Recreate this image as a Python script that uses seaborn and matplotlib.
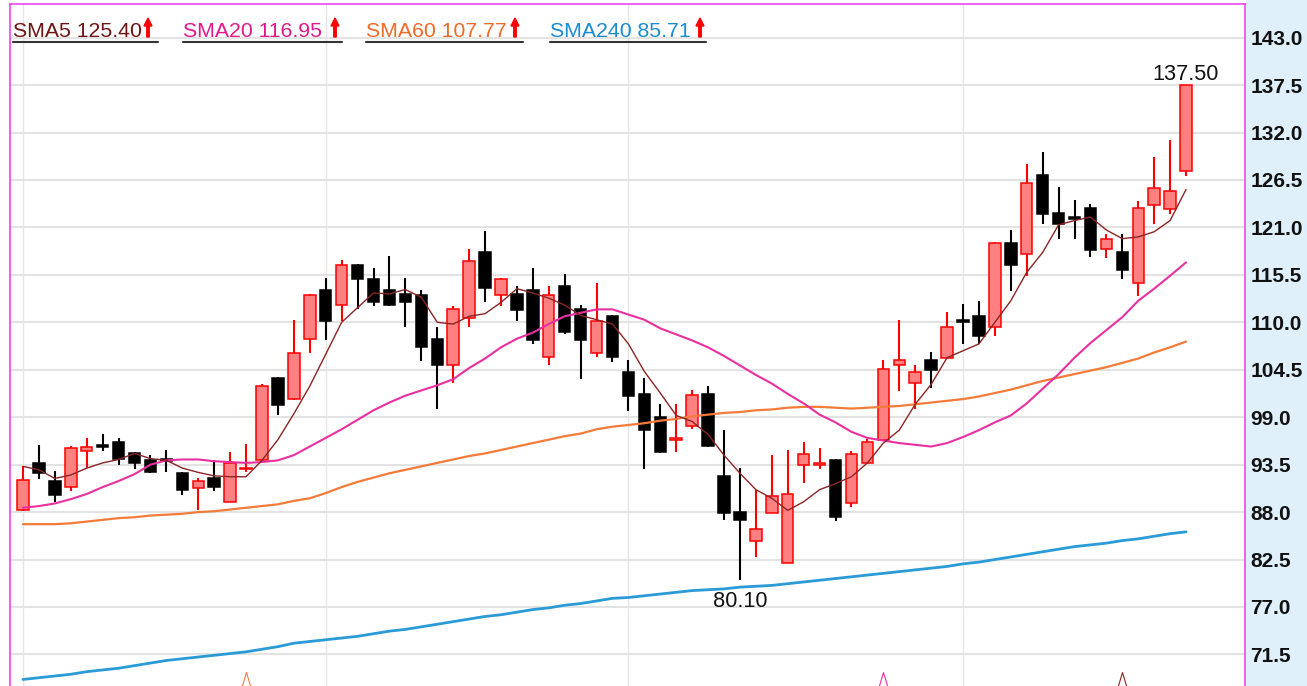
import numpy as np
import pandas as pd
import matplotlib
matplotlib.use("Agg")
import matplotlib.pyplot as plt
import seaborn as sns
from matplotlib import font_manager as fm
from matplotlib.patches import Rectangle, FancyArrow
from matplotlib.lines import Line2D
from matplotlib.path import Path
from matplotlib.transforms import IdentityTransform, blended_transform_factory

# ---------------- data ----------------
opens = [88.2, 93.7, 91.6, 90.9, 95.1, 95.7, 96.1, 94.8, 94.0, 94.1,
         92.5, 90.8, 92.0, 89.2, 93.0, 94.0, 103.6, 101.1, 108.1, 113.7,
         112.0, 116.7, 115.0, 113.7, 113.3, 113.2, 108.1, 105.0, 110.5, 118.1,
         113.2, 113.3, 113.7, 106.0, 114.2, 111.6, 106.4, 110.7, 104.2, 101.7,
         99.0, 96.4, 98.0, 101.7, 92.2, 88.0, 84.6, 87.9, 82.1, 93.5,
         93.5, 94.0, 89.1, 93.7, 96.3, 105.1, 103.0, 105.6, 105.9, 110.3,
         110.7, 109.4, 119.2, 117.9, 127.1, 122.7, 122.2, 123.2, 118.5, 118.1,
         114.5, 123.6, 123.1, 127.5]
highs = [93.3, 95.8, 92.8, 95.7, 96.6, 97.1, 96.6, 95.0, 94.6, 95.2,
         92.7, 91.9, 94.0, 95.0, 95.9, 102.8, 103.7, 110.3, 113.3, 115.1,
         117.2, 116.8, 116.3, 117.7, 115.1, 113.7, 109.5, 111.9, 118.5, 120.6,
         115.1, 114.2, 116.3, 114.2, 115.6, 112.0, 114.6, 110.8, 105.6, 103.5,
         100.5, 100.5, 102.1, 102.6, 97.5, 93.1, 90.6, 94.6, 95.2, 96.1,
         95.4, 94.2, 95.1, 96.5, 105.6, 110.3, 105.1, 106.6, 111.2, 112.1,
         112.5, 119.3, 120.7, 128.3, 129.7, 125.7, 124.2, 123.7, 120.2, 120.2,
         124.1, 129.2, 131.1, 137.5]
lows = [88.1, 91.8, 89.2, 90.5, 93.1, 95.1, 93.5, 93.0, 92.5, 92.7,
        90.0, 88.3, 90.5, 89.2, 92.7, 93.8, 99.2, 101.0, 106.4, 108.0,
        110.2, 111.5, 111.9, 111.9, 109.4, 105.5, 99.9, 103.0, 109.4, 112.4,
        111.9, 110.1, 107.5, 105.0, 108.7, 103.4, 106.0, 105.4, 99.7, 93.0,
        94.9, 95.0, 97.6, 95.5, 87.1, 80.1, 82.8, 87.9, 82.1, 91.4,
        93.0, 87.0, 88.6, 93.7, 96.2, 102.0, 99.9, 102.4, 105.9, 107.5,
        107.5, 108.4, 113.6, 115.4, 121.4, 119.6, 119.6, 117.6, 117.5, 115.0,
        113.1, 121.4, 122.6, 127.0]
closes = [91.7, 92.5, 90.0, 95.4, 95.6, 95.6, 94.2, 93.7, 92.7, 93.9,
          90.6, 91.6, 90.9, 93.7, 93.1, 102.6, 100.4, 106.5, 113.2, 110.1,
          116.7, 115.0, 112.4, 112.0, 112.4, 107.1, 105.0, 111.5, 117.1, 114.0,
          115.0, 111.4, 108.0, 113.2, 108.9, 108.0, 110.2, 106.0, 101.5, 97.5,
          95.0, 96.6, 101.6, 95.7, 87.9, 87.1, 86.0, 89.9, 90.1, 94.7,
          93.7, 87.4, 94.7, 96.1, 104.6, 105.6, 104.2, 104.5, 109.5, 110.1,
          108.4, 119.2, 116.6, 126.2, 122.6, 121.4, 122.0, 118.4, 119.7, 116.1,
          123.2, 125.6, 125.2, 137.5]

sma5 = [93.3, 92.9, 91.9, 92.3, 93.1, 93.7, 94.1, 94.8, 94.2, 94.0,
        93.1, 92.6, 92.2, 92.1, 92.1, 94.0, 96.4, 99.4, 102.6, 106.3,
        110.0, 111.7, 113.4, 113.3, 113.8, 112.9, 110.0, 109.8, 110.7, 111.0,
        112.3, 113.9, 113.4, 112.8, 112.0, 110.8, 110.3, 109.8, 107.5, 104.3,
        101.8, 99.2, 98.5, 97.0, 94.6, 92.5, 90.6, 89.6, 88.2, 89.2,
        90.6, 91.3, 92.1, 93.7, 96.0, 97.5, 100.5, 102.8, 105.9, 106.7,
        107.5, 110.0, 112.5, 115.8, 118.1, 121.3, 121.8, 122.2, 120.7, 119.7,
        119.9, 120.5, 121.8, 125.4]
sma20 = [88.5, 88.7, 89.0, 89.5, 90.1, 90.9, 91.6, 92.4, 93.5, 94.0,
         94.1, 94.1, 93.9, 93.8, 93.7, 93.8, 94.0, 94.6, 95.6, 96.6,
         97.6, 98.7, 99.8, 100.7, 101.5, 102.1, 102.7, 103.4, 104.7, 105.8,
         107.1, 108.1, 108.8, 109.8, 110.7, 111.1, 111.5, 111.5, 110.9, 110.3,
         109.3, 108.6, 107.9, 107.1, 106.1, 105.0, 103.9, 102.9, 101.7, 100.6,
         99.3, 98.4, 97.3, 96.6, 96.3, 96.0, 95.8, 95.6, 96.0, 96.7,
         97.5, 98.4, 99.2, 100.6, 102.3, 104.0, 105.9, 107.6, 109.1, 110.6,
         112.5, 113.9, 115.4, 116.95]
sma60 = [86.6, 86.6, 86.6, 86.7, 86.9, 87.1, 87.3, 87.4, 87.6, 87.7,
         87.8, 88.0, 88.1, 88.3, 88.5, 88.7, 88.9, 89.3, 89.6, 90.2,
         90.9, 91.5, 92.0, 92.5, 92.9, 93.3, 93.7, 94.1, 94.5, 94.8,
         95.2, 95.6, 96.0, 96.4, 96.8, 97.1, 97.6, 97.9, 98.1, 98.3,
         98.6, 98.8, 99.1, 99.3, 99.5, 99.6, 99.8, 99.9, 100.1, 100.2,
         100.2, 100.1, 100.0, 100.1, 100.2, 100.3, 100.5, 100.7, 100.9, 101.1,
         101.4, 101.8, 102.2, 102.7, 103.2, 103.6, 104.0, 104.4, 104.8, 105.3,
         105.8, 106.5, 107.1, 107.77]
sma240 = [68.6, 68.8, 69.0, 69.2, 69.5, 69.7, 69.9, 70.2, 70.5, 70.8,
          71.0, 71.2, 71.4, 71.6, 71.8, 72.1, 72.4, 72.8, 73.0, 73.2,
          73.4, 73.6, 73.9, 74.2, 74.4, 74.7, 75.0, 75.3, 75.6, 75.9,
          76.1, 76.4, 76.7, 76.9, 77.2, 77.4, 77.7, 78.0, 78.1, 78.3,
          78.5, 78.7, 78.9, 79.0, 79.1, 79.3, 79.4, 79.5, 79.7, 79.9,
          80.1, 80.3, 80.5, 80.7, 80.9, 81.1, 81.3, 81.5, 81.7, 82.0,
          82.2, 82.5, 82.8, 83.1, 83.4, 83.7, 84.0, 84.2, 84.4, 84.7,
          84.9, 85.2, 85.5, 85.71]

legend_names = ["SMA5", "SMA20", "SMA60", "SMA240"]
legend_values = [125.40, 116.95, 107.77, 85.71]
ytick_values = [71.5, 77.0, 82.5, 88.0, 93.5, 99.0, 104.5, 110.0,
                115.5, 121.0, 126.5, 132.0, 137.5, 143.0]
month_starts = [0, 19, 38, 59]
signal_idx = [14, 54, 69]
signal_series = ["SMA60", "SMA20", "SMA5"]

# ---------------- styles ----------------
line_colors = {"SMA5": "#8b2525", "SMA20": "#ea2fa0", "SMA60": "#f47b3a", "SMA240": "#2a9bd6"}
text_colors = {"SMA5": "#6e1414", "SMA20": "#e0198a", "SMA60": "#f06a28", "SMA240": "#1a8cd0"}
line_widths = {"SMA5": 1.0, "SMA20": 1.5, "SMA60": 1.6, "SMA240": 2.0}

sns.set_style("white")
avail = {f.name for f in fm.fontManager.ttflist}
def pick(*names):
    for n in names:
        if n in avail:
            return n
    return "DejaVu Sans"
NARROW = pick("Liberation Sans Narrow", "DejaVu Sans Condensed", "Liberation Sans", "DejaVu Sans")
narrow_ok = NARROW in ("Liberation Sans Narrow", "DejaVu Sans Condensed")
plt.rcParams["font.family"] = [NARROW, "DejaVu Sans"]

# font sizes tuned so text widths match the reference
legend_fs = 18.5 if narrow_ok else 15.3
tick_fs = 18 if narrow_ok else 15
extreme_fs = 19 if narrow_ok else 15.7

W, H = 1307, 686
fig = plt.figure(figsize=(W / 100, H / 100), dpi=100)
fig.patch.set_facecolor("white")
fig.add_artist(Rectangle((1246 / W, 0), (W - 1246) / W, 1, transform=fig.transFigure,
                         facecolor="#dff0fb", edgecolor="none", zorder=-5))

ax = fig.add_axes([10 / W, 0, (1245 - 10) / W, (H - 4) / H])
ax.set_facecolor("white")

n = len(opens)
idx = np.arange(n)
O = np.array(opens); C = np.array(closes); Hh = np.array(highs); L = np.array(lows)
up = C >= O
wick_col = np.where(up, "#ff0000", "#000000")
face_col = np.where(up, "#ff8080", "#000000")
edge_col = np.where(up, "#ff0000", "#000000")

ax.vlines(idx, L, Hh, colors=wick_col, lw=1.5, zorder=2)
body_h = np.abs(C - O)
mid = (C + O) / 2
min_h = 0.22
bottom = np.where(body_h < min_h, mid - min_h / 2, np.minimum(O, C))
height = np.maximum(body_h, min_h)
ax.bar(idx, height, bottom=bottom, width=0.72, color=face_col, edgecolor=edge_col,
       linewidth=1.1, zorder=3)

df = pd.DataFrame({"idx": idx, "SMA5": sma5, "SMA20": sma20, "SMA60": sma60, "SMA240": sma240})
for z, name in enumerate(["SMA240", "SMA60", "SMA20", "SMA5"]):
    sns.lineplot(data=df, x="idx", y=name, color=line_colors[name], lw=line_widths[name],
                 ax=ax, legend=False, zorder=4 + z)

ax.set_xlabel(""); ax.set_ylabel("")
ax.set_xlim(-0.816, 76.7)
ax.set_ylim(67.84, 146.9)

ax.yaxis.tick_right()
ax.set_yticks(ytick_values)
ax.set_yticklabels([f"{v:.1f}" for v in ytick_values], fontsize=tick_fs, fontweight="bold",
                   color="#111111")
ax.tick_params(axis="y", length=0, pad=4)
ax.set_xticks(month_starts)
ax.set_xticklabels([])
ax.tick_params(axis="x", length=0)
ax.grid(axis="y", color="#e3e3e3", lw=1.5)
ax.grid(axis="x", color="#e6e6e6", lw=1.0)
ax.set_axisbelow(True)

for s in ["left", "top", "right"]:
    ax.spines[s].set_color("#ee44ee")
    ax.spines[s].set_linewidth(1.2)
ax.spines["bottom"].set_visible(False)

# extreme labels
imax = int(np.argmax(Hh)); imin = int(np.argmin(L))
ax.annotate(f"{Hh[imax]:.2f}", (imax, Hh[imax]), xytext=(0, 3.6), textcoords="offset points",
            ha="center", va="baseline", fontsize=extreme_fs, color="#111111", zorder=10)
ax.annotate(f"{L[imin]:.2f}", (imin, L[imin]), xytext=(0, -19.4), textcoords="offset points",
            ha="center", va="baseline", fontsize=extreme_fs, color="#111111", zorder=10)

# bottom signal carets
caret = Path([(-0.6, -1), (0, 1), (0.6, -1)], [Path.MOVETO, Path.LINETO, Path.LINETO])
trans = blended_transform_factory(ax.transData, ax.transAxes)
for i, s in zip(signal_idx, signal_series):
    ax.plot([i], [0.0103], marker=caret, ms=10, mec=line_colors[s], mfc="none", mew=0.8,
            ls="none", transform=trans, clip_on=False, zorder=10)

# legend row
text_x = [13, 183, 366, 550]
under_end = [158, 342, 523, 706]
arrow_x = [148, 335, 515, 700]
base_y = 37
for name, val, tx, ue, axx in zip(legend_names, legend_values, text_x, under_end, arrow_x):
    fig.text(tx / W, 1 - base_y / H, f"{name} {val:.2f}", fontsize=legend_fs, color=text_colors[name],
             ha="left", va="baseline", zorder=20)
    fig.add_artist(Line2D([tx / W, ue / W], [1 - 42 / H, 1 - 42 / H], transform=fig.transFigure,
                          color="#333333", lw=1.5, zorder=20))
    fig.add_artist(FancyArrow(axx, H - base_y, 0, 19, width=2.5, head_width=8, head_length=8,
                              length_includes_head=True, color="#ff0000",
                              transform=IdentityTransform(), zorder=21))

fig.savefig("out.png", dpi=100)
